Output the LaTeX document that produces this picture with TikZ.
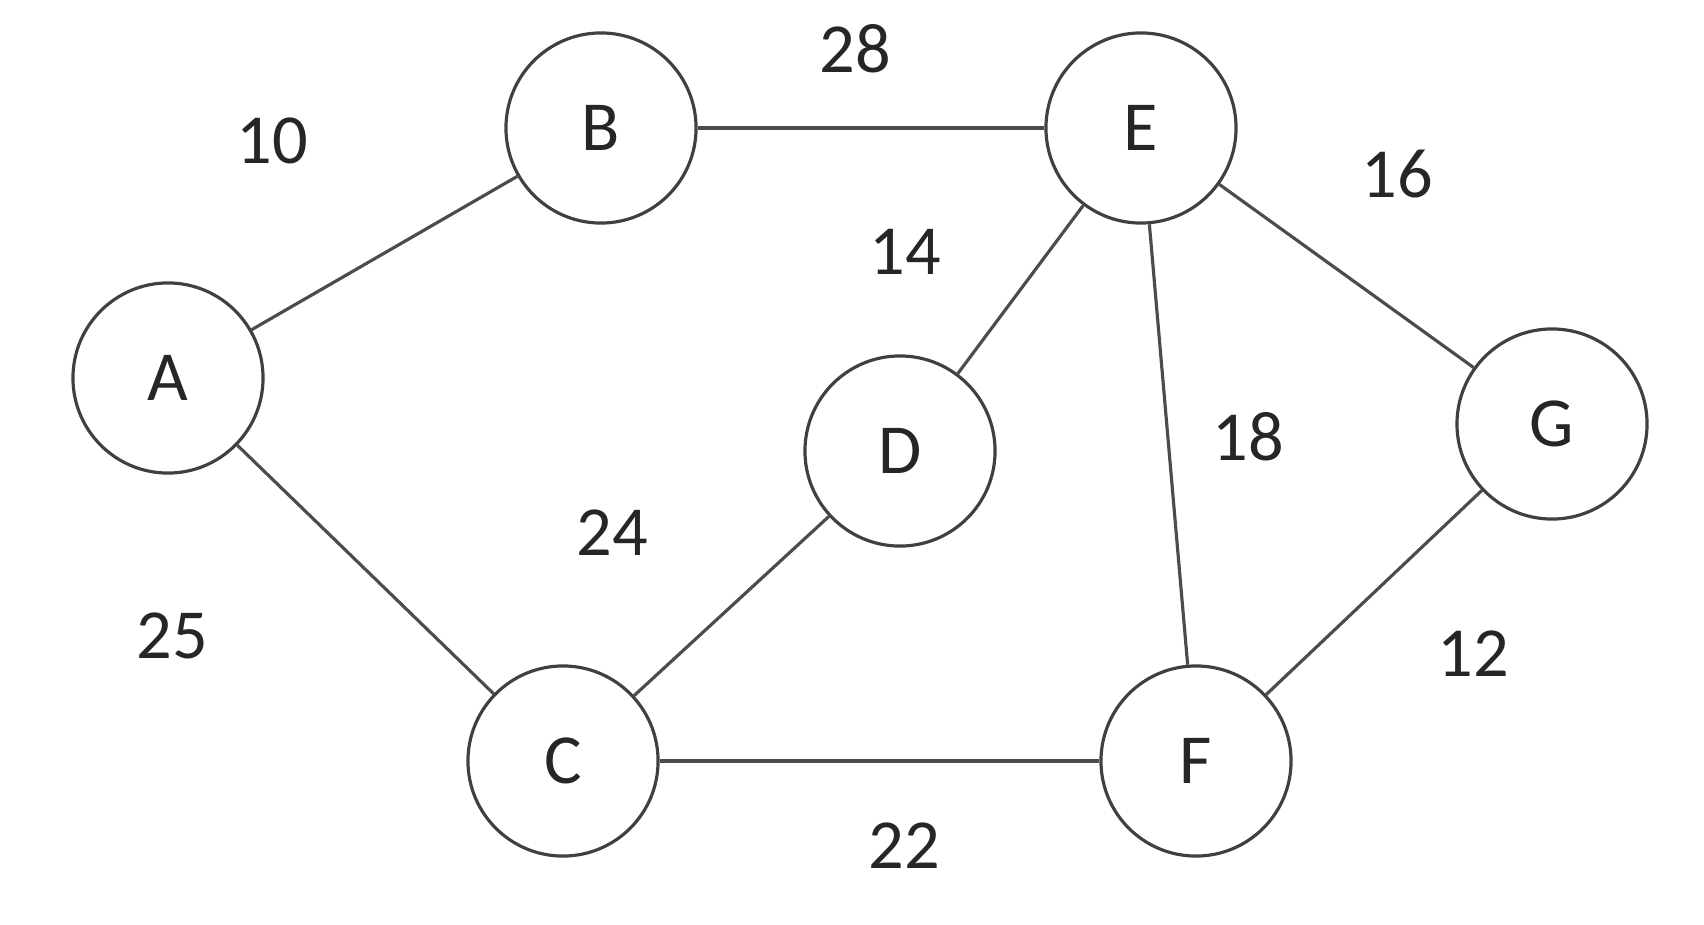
\documentclass[tikz,border=0pt]{standalone}
\usepackage{fontspec}
\setmainfont{Carlito}
\begin{document}
\begin{tikzpicture}[x=0.01cm,y=-0.01cm,
  vert/.style={circle,draw=black!75,line width=0.9pt,minimum size=1.9cm,inner sep=0pt,font=\fontsize{20}{24}\selectfont,text=black!85},
  wt/.style={font=\fontsize{20}{24}\selectfont,text=black!85},
  edge/.style={draw=black!70,line width=0.9pt}]
\useasboundingbox (0,0) rectangle (1704,924);
\node[vert] (A) at (168,378) {A};
\node[vert] (B) at (601,128) {B};
\node[vert] (E) at (1141,128) {E};
\node[vert] (D) at (900,451) {D};
\node[vert] (G) at (1552,424) {G};
\node[vert] (C) at (563,761) {C};
\node[vert] (F) at (1196,761) {F};
\draw[edge] (A)--(B); \draw[edge] (B)--(E); \draw[edge] (E)--(G);
\draw[edge] (E)--(D); \draw[edge] (E)--(F); \draw[edge] (D)--(C);
\draw[edge] (A)--(C); \draw[edge] (G)--(F); \draw[edge] (C)--(F);
\node[wt] (w1) at (272,141) {10};
\node[wt] (w2) at (855,49) {28};
\node[wt] (w3) at (1397,174) {16};
\node[wt] (w4) at (905,252) {14};
\node[wt] (w5) at (1248,437) {18};
\node[wt] (w6) at (612,533) {24};
\node[wt] (w7) at (172,636) {25};
\node[wt] (w8) at (1473,654) {12};
\node[wt] (w9) at (904,846) {22};
\end{tikzpicture}
\end{document}
